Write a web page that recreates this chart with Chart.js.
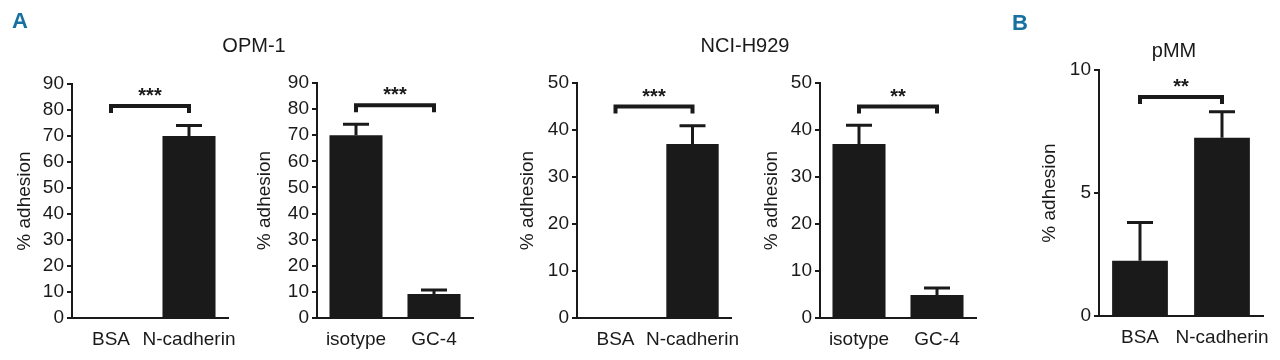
<!DOCTYPE html>
<html lang="en">
<head>
  <meta charset="UTF-8" />
  <title>Adhesion to N-cadherin</title>
  <script src="https://cdn.jsdelivr.net/npm/chart.js@4"></script>
  <style>
    body { margin: 0; background: #fff; }
    #fig { position: relative; width: 1280px; height: 360px; overflow: hidden; }
    .panel { position: absolute; top: 0; }
    .lbl { position: absolute; z-index: 2; font-family: "Liberation Sans", Arial, sans-serif; color: #1a1a1a; line-height: 1; white-space: nowrap; }
    .letter { font-weight: bold; font-size: 22px; color: #17709f; }
    .ttl { font-size: 20px; width: 200px; text-align: center; }
  </style>
</head>
<body>
  <div id="fig">
    <div class="lbl letter" style="left:12px; top:10px;">A</div>
    <div class="lbl letter" style="left:1012px; top:12px;">B</div>
    <div class="lbl ttl" style="left:154px; top:35px;">OPM-1</div>
    <div class="lbl ttl" style="left:645px; top:35px;">NCI-H929</div>
    <div class="lbl ttl" style="left:1074px; top:40px;">pMM</div>

    <div class="panel" style="left:0px;"><canvas id="p1" width="240" height="360"></canvas></div>
    <div class="panel" style="left:240px;"><canvas id="p2" width="250" height="360"></canvas></div>
    <div class="panel" style="left:490px;"><canvas id="p3" width="255" height="360"></canvas></div>
    <div class="panel" style="left:745px;"><canvas id="p4" width="250" height="360"></canvas></div>
    <div class="panel" style="left:1000px;"><canvas id="p5" width="280" height="360"></canvas></div>
  </div>

  <script>
    // data (mean % adhesion, upper error)
    const coatLabels = ["BSA", "N-cadherin"];
    const antibodyLabels = ["isotype", "GC-4"];

    const opmCoat = [0, 70];
    const opmCoatErr = [0, 4];
    const opmAb = [70, 9.2];
    const opmAbErr = [4.2, 1.5];

    const nciCoat = [0, 37];
    const nciCoatErr = [0, 3.9];
    const nciAb = [37, 4.9];
    const nciAbErr = [4, 1.5];

    const pmmCoat = [2.25, 7.25];
    const pmmCoatErr = [1.55, 1.05];

    const yMax = [90, 90, 50, 50, 10];
    const yStep = [10, 10, 10, 10, 5];
    const bracketAt = [81.5, 81.5, 45, 45, 8.9];
    const stars = ["***", "***", "***", "**", "**"];

    const INK = "#1a1a1a";
    const FONT = "'Liberation Sans', Arial, sans-serif";

    // error bars + significance bracket
    const extras = {
      id: "extras",
      afterDatasetsDraw(chart, args, o) {
        const ctx = chart.ctx;
        const meta = chart.getDatasetMeta(0);
        const y = chart.scales.y;
        ctx.save();
        ctx.strokeStyle = INK;
        ctx.lineWidth = 3;
        o.err.forEach((e, i) => {
          if (!e) return;
          const bar = meta.data[i];
          const top = y.getPixelForValue(o.mean[i] + e);
          ctx.beginPath();
          ctx.moveTo(bar.x, bar.y);
          ctx.lineTo(bar.x, top);
          ctx.moveTo(bar.x - 13, top);
          ctx.lineTo(bar.x + 13, top);
          ctx.stroke();
        });
        const x0 = meta.data[0].x, x1 = meta.data[1].x;
        const yb = y.getPixelForValue(o.bracket);
        ctx.lineWidth = 4;
        ctx.beginPath();
        ctx.moveTo(x0, yb + 7);
        ctx.lineTo(x0, yb);
        ctx.lineTo(x1, yb);
        ctx.lineTo(x1, yb + 7);
        ctx.stroke();
        ctx.fillStyle = INK;
        ctx.font = "bold 20px 'Liberation Sans', sans-serif";
        ctx.textAlign = "center";
        ctx.fillText(o.stars, (x0 + x1) / 2, yb - 4);
        ctx.restore();
      }
    };

    // one small bar chart; geometry in page pixels
    function panel(id, divLeft, divW, axisX, slot, titleX, topPx, botPx, labels, mean, err, k) {
      const scaleLeft = titleX - 12;
      const yW = axisX - scaleLeft;
      new Chart(document.getElementById(id), {
        type: "bar",
        data: {
          labels: labels,
          datasets: [{ data: mean, backgroundColor: INK, borderWidth: 0, categoryPercentage: 1, barPercentage: 0.68 }]
        },
        options: {
          responsive: false,
          animation: false,
          layout: {
            padding: {
              left: scaleLeft - divLeft,
              right: divLeft + divW - (axisX + 2 * slot),
              top: topPx,
              bottom: 360 - 42 - botPx
            }
          },
          plugins: {
            legend: { display: false },
            tooltip: { enabled: false },
            extras: { mean: mean, err: err, bracket: bracketAt[k], stars: stars[k] }
          },
          scales: {
            x: {
              offset: true,
              grid: { display: true, drawOnChartArea: false, drawTicks: false },
              border: { color: INK, width: 2 },
              ticks: { color: INK, font: { family: FONT, size: 19 }, padding: 10, maxRotation: 0, minRotation: 0, autoSkip: false },
              afterFit(s) { s.height = 42; s.paddingLeft = 0; s.paddingRight = 0; }
            },
            y: {
              min: 0,
              max: yMax[k],
              ticks: { stepSize: yStep[k], autoSkip: false, color: INK, font: { family: FONT, size: 19 }, padding: 3 },
              grid: { drawOnChartArea: false, tickLength: 5, color: INK, lineWidth: 2 },
              border: { color: INK, width: 2 },
              title: { display: true, text: "% adhesion", color: INK, font: { family: FONT, size: 19 }, padding: 0 },
              afterFit(s) { s.width = yW; s.paddingTop = 0; s.paddingBottom = 0; }
            }
          }
        },
        plugins: [extras]
      });
    }

    panel("p1", 0, 240, 72, 78, 25, 84, 318, coatLabels, opmCoat, opmCoatErr, 0);
    panel("p2", 240, 250, 317, 78, 265, 83, 318, antibodyLabels, opmAb, opmAbErr, 1);
    panel("p3", 490, 255, 577, 77, 528, 83, 318, coatLabels, nciCoat, nciCoatErr, 2);
    panel("p4", 745, 250, 820, 78, 772, 83, 318, antibodyLabels, nciAb, nciAbErr, 3);
    panel("p5", 1000, 280, 1099, 82, 1050, 70, 316, coatLabels, pmmCoat, pmmCoatErr, 4);
  </script>
</body>
</html>
